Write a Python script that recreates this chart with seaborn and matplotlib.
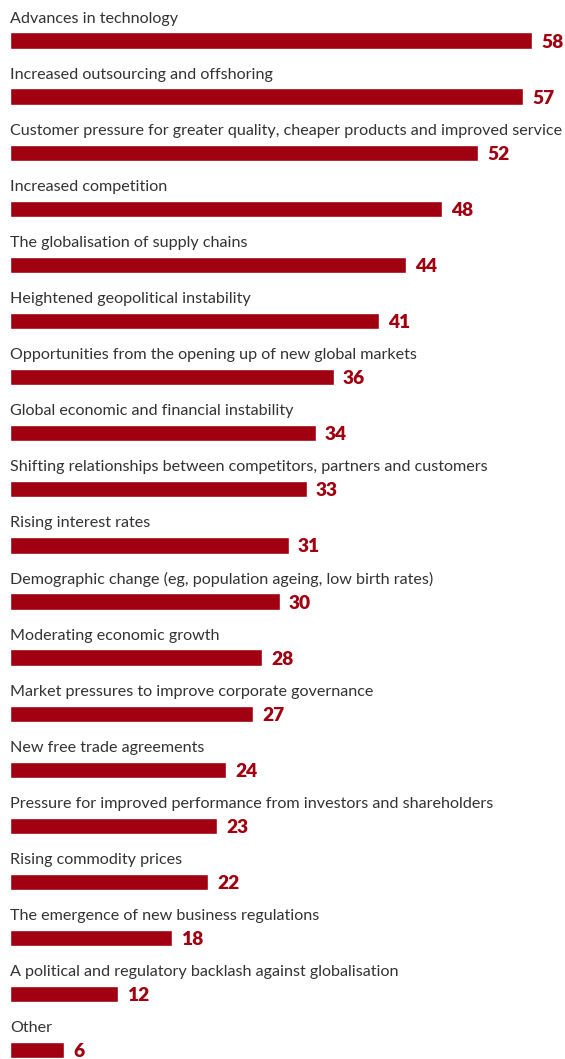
import matplotlib
matplotlib.use("Agg")
import matplotlib.pyplot as plt
import seaborn as sns
import pandas as pd

categories = [
    "Advances in technology",
    "Increased outsourcing and offshoring",
    "Customer pressure for greater quality, cheaper products and improved service",
    "Increased competition",
    "The globalisation of supply chains",
    "Heightened geopolitical instability",
    "Opportunities from the opening up of new global markets",
    "Global economic and financial instability",
    "Shifting relationships between competitors, partners and customers",
    "Rising interest rates",
    "Demographic change (eg, population ageing, low birth rates)",
    "Moderating economic growth",
    "Market pressures to improve corporate governance",
    "New free trade agreements",
    "Pressure for improved performance from investors and shareholders",
    "Rising commodity prices",
    "The emergence of new business regulations",
    "A political and regulatory backlash against globalisation",
    "Other",
]
values = [58, 57, 52, 48, 44, 41, 36, 34, 33, 31, 30, 28, 27, 24, 23, 22, 18, 12, 6]

sns.set_theme(style="white")
plt.rcParams["font.family"] = ["Lato", "DejaVu Sans"]

BAR = "#a0000f"
TEXT = "#333333"

df = pd.DataFrame({"category": categories, "value": values})

W, H, DPI = 565, 1059, 100
fig = plt.figure(figsize=(W / DPI, H / DPI), dpi=DPI)
ax = fig.add_axes([10 / W, 0, 1 - 10 / W, 1])

sns.barplot(data=df, x="value", y="category", orient="h", color=BAR,
            width=0.29, saturation=1, ax=ax)

px_per_unit = 9.0
row_px = 56.1
first_center = 40.5
ax.set_xlim(0, (W - 10) / px_per_unit)
ax.set_ylim((H - first_center) / row_px, -first_center / row_px)

label_texts = []
for i, (cat, val) in enumerate(zip(categories, values)):
    t = ax.text(0, i - 18 / row_px, cat, ha="left", va="baseline",
                fontsize=12.0, color=TEXT)
    label_texts.append(t)
    ax.text(val + 1.0, i + 7 / row_px, str(val), ha="left", va="baseline",
            fontsize=13.8, fontweight="heavy", color=BAR)

# size the category labels so the longest one spans the available width
renderer = fig.canvas.get_renderer()
widest = max(t.get_window_extent(renderer).width for t in label_texts)
scale = 553.0 / widest
for t in label_texts:
    t.set_fontsize(12.0 * scale)

ax.set_axis_off()
fig.savefig("out.png", dpi=DPI)
